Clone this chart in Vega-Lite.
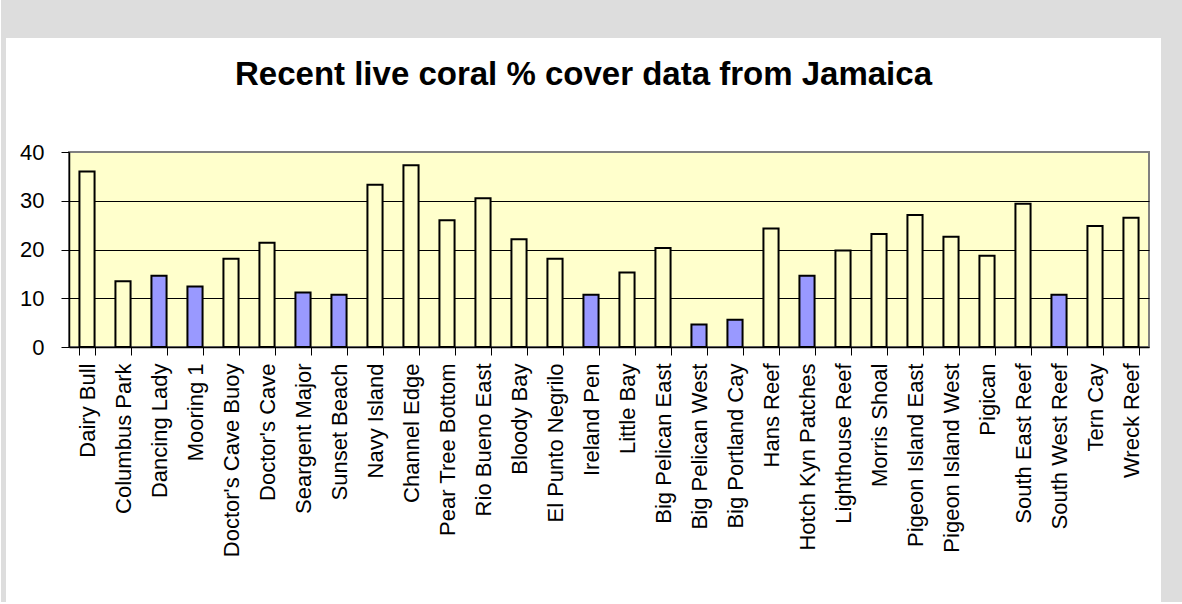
{
  "$schema": "https://vega.github.io/schema/vega-lite/v6.json",
  "padding": 0,
  "background": "#ffffff",
  "spacing": 0,
  "vconcat": [
    {
      "spacing": 0,
      "hconcat": [
        {
          "spacing": -66,
          "hconcat": [
            {
              "spacing": 0,
              "vconcat": [
                {
                  "width": 68,
                  "height": 38,
                  "view": {"fill": "#dddddd", "stroke": null},
                  "data": {"values": [{"k": 0}]},
                  "mark": {"type": "point", "opacity": 0},
                  "encoding": {}
                },
                {
                  "width": 5,
                  "height": 564,
                  "view": {"fill": "#dddddd", "stroke": null},
                  "data": {"values": [{"k": 0}]},
                  "mark": {"type": "point", "opacity": 0},
                  "encoding": {}
                }
              ]
            },
            {
              "spacing": 0,
              "vconcat": [
                {
                  "width": 1092,
                  "height": 38,
                  "view": {"fill": "#dddddd", "stroke": null},
                  "data": {"values": [{"k": 0}]},
                  "mark": {"type": "point", "opacity": 0},
                  "encoding": {}
                },
                {
                  "width": 1080,
                  "height": 195,
                  "view": {"fill": "#ffffcc", "stroke": "#808080", "strokeWidth": 2},
                  "title": {
                    "text": ["", "Recent live coral % cover data from Jamaica"],
                    "lineHeight": 20,
                    "font": "Liberation Sans",
                    "fontSize": 33,
                    "fontWeight": "bold",
                    "color": "#000000",
                    "anchor": "middle",
                    "dx": -25.5,
                    "offset": 49
                  },
                  "data": {
                    "values": [
                      {"site": "Dairy Bull", "cover": 36.0, "group": "plain"},
                      {"site": "Columbus Park", "cover": 13.5, "group": "plain"},
                      {"site": "Dancing Lady", "cover": 14.6, "group": "blue"},
                      {"site": "Mooring 1", "cover": 12.4, "group": "blue"},
                      {"site": "Doctor's Cave Buoy", "cover": 18.1, "group": "plain"},
                      {"site": "Doctor's Cave", "cover": 21.4, "group": "plain"},
                      {"site": "Seargent Major", "cover": 11.2, "group": "blue"},
                      {"site": "Sunset Beach", "cover": 10.7, "group": "blue"},
                      {"site": "Navy Island", "cover": 33.3, "group": "plain"},
                      {"site": "Channel Edge", "cover": 37.3, "group": "plain"},
                      {"site": "Pear Tree Bottom", "cover": 26.0, "group": "plain"},
                      {"site": "Rio Bueno East", "cover": 30.5, "group": "plain"},
                      {"site": "Bloody Bay", "cover": 22.1, "group": "plain"},
                      {"site": "El Punto Negrilo", "cover": 18.1, "group": "plain"},
                      {"site": "Ireland Pen", "cover": 10.7, "group": "blue"},
                      {"site": "Little Bay", "cover": 15.3, "group": "plain"},
                      {"site": "Big Pelican East", "cover": 20.3, "group": "plain"},
                      {"site": "Big Pelican West", "cover": 4.6, "group": "blue"},
                      {"site": "Big Portland Cay", "cover": 5.6, "group": "blue"},
                      {"site": "Hans Reef", "cover": 24.3, "group": "plain"},
                      {"site": "Hotch Kyn Patches", "cover": 14.6, "group": "blue"},
                      {"site": "Lighthouse Reef", "cover": 19.8, "group": "plain"},
                      {"site": "Morris Shoal", "cover": 23.2, "group": "plain"},
                      {"site": "Pigeon Island East", "cover": 27.1, "group": "plain"},
                      {"site": "Pigeon Island West", "cover": 22.6, "group": "plain"},
                      {"site": "Pigican", "cover": 18.7, "group": "plain"},
                      {"site": "South East Reef", "cover": 29.4, "group": "plain"},
                      {"site": "South West Reef", "cover": 10.7, "group": "blue"},
                      {"site": "Tern Cay", "cover": 24.8, "group": "plain"},
                      {"site": "Wreck Reef", "cover": 26.5, "group": "plain"}
                    ]
                  },
                  "mark": {"type": "bar", "stroke": "#000000", "strokeWidth": 2},
                  "encoding": {
                    "x": {
                      "field": "site",
                      "type": "nominal",
                      "sort": null,
                      "scale": {"paddingInner": 0.58, "paddingOuter": 0.29},
                      "axis": {
                        "title": null,
                        "labelAngle": -90,
                        "labelFont": "Liberation Sans",
                        "labelFontSize": 22,
                        "labelColor": "#000000",
                        "labelLimit": 0,
                        "labelOverlap": false,
                        "labelPadding": 8,
                        "tickBand": "extent",
                        "tickSize": 8,
                        "tickColor": "#000000",
                        "tickWidth": 1,
                        "domainColor": "#000000",
                        "domainWidth": 1.5,
                        "grid": false
                      }
                    },
                    "y": {
                      "field": "cover",
                      "type": "quantitative",
                      "scale": {"domain": [0, 40], "nice": false},
                      "axis": {
                        "title": null,
                        "values": [0, 10, 20, 30, 40],
                        "grid": true,
                        "gridColor": "#000000",
                        "gridWidth": 1,
                        "gridOpacity": {"condition": {"test": "datum.value === 0 || datum.value === 40", "value": 0}, "value": 1},
                        "labelFont": "Liberation Sans",
                        "labelFontSize": 22,
                        "labelColor": "#000000",
                        "labelPadding": 17,
                        "tickSize": 8,
                        "tickColor": "#000000",
                        "tickWidth": 1,
                        "domainColor": "#000000",
                        "domainWidth": 1.5,
                        "minExtent": 63
                      }
                    },
                    "color": {
                      "field": "group",
                      "type": "nominal",
                      "scale": {"domain": ["plain", "blue"], "range": ["#ffffcc", "#9999ff"]},
                      "legend": null
                    }
                  }
                }
              ]
            }
          ]
        },
        {
          "width": 22,
          "height": 602,
          "view": {"fill": "#dddddd", "stroke": null},
          "data": {"values": [{"k": 0}]},
          "mark": {"type": "point", "opacity": 0},
          "encoding": {}
        }
      ]
    },
    {
      "width": 1182,
      "height": 2,
      "view": {"fill": "#dddddd", "stroke": null},
      "data": {"values": [{"k": 0}]},
      "mark": {"type": "point", "opacity": 0},
      "encoding": {}
    }
  ]
}
